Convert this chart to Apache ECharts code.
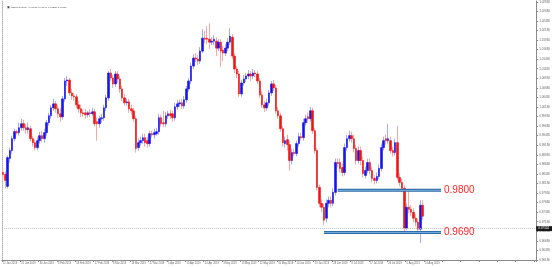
<!DOCTYPE html>
<html><head><meta charset="utf-8">
<script src="https://cdn.jsdelivr.net/npm/echarts@6/dist/echarts.min.js"></script>
<style>html,body{margin:0;padding:0;background:#fff}#c{width:553px;height:267px}</style>
</head><body><div id="c"></div>
<script>
const symbolName = 'USDCHF,Daily';
const openP = [
0.98468,0.98416,0.98104,0.98832,0.99040,0.99352,0.99534,0.99508,0.99638,0.99742,
0.99638,0.99586,0.99612,0.99352,0.99248,0.99118,0.99300,0.99430,0.99352,0.99508,
0.99768,0.99950,1.00158,1.00262,1.00132,1.00002,0.99924,1.00392,1.00860,1.00886,
1.00548,1.00470,1.00444,1.00236,1.00132,1.00028,1.00028,0.99976,1.00028,1.00002,
1.00054,0.99794,0.99742,0.99872,0.99898,1.00158,1.00418,1.01068,1.00938,1.00782,
1.01042,1.00912,1.00652,1.00418,1.00288,1.00314,1.00132,1.00080,0.99872,0.99118,
0.99248,0.99300,0.99378,0.99300,0.99222,0.99482,0.99456,0.99482,0.99534,0.99898,
0.99768,0.99742,0.99950,1.00002,1.00002,0.99898,1.00184,1.00262,1.00288,1.00210,
1.00366,1.00652,1.00860,1.01250,1.01458,1.01432,1.01380,1.01640,1.01978,1.01978,
1.01952,1.01874,1.01900,1.01900,1.01718,1.01874,1.01666,1.01588,1.01718,1.01874,
1.02004,1.01510,1.01172,1.01042,1.00522,1.00808,1.00912,1.00990,1.01042,1.00990,
1.01068,1.01042,1.00860,1.00496,1.00236,1.00158,1.00288,1.00548,1.00782,1.00678,
1.00080,0.99950,0.99612,0.99222,0.99326,0.99196,0.98780,0.98988,0.98962,0.99222,
0.99404,0.99378,0.99768,0.99924,0.99872,1.00080,0.99560,0.99040,0.98078,0.97662,
0.97558,0.97272,0.97662,0.97740,0.97662,0.97948,0.98728,0.98728,0.98598,0.98468,
0.99118,0.99352,0.99430,0.99352,0.99092,0.98780,0.99040,0.98780,0.98390,0.98520,
0.98728,0.98520,0.98312,0.98260,0.98364,0.98572,0.99118,0.99352,0.99300,0.99300,
0.99040,0.98988,0.99248,0.98338,0.98208,0.98052,0.97012,0.97558,0.97506,0.97428,
0.97272,0.97168,0.96986,0.97610];
const closeP = [
0.98416,0.98260,0.98858,0.99040,0.99352,0.99534,0.99508,0.99638,0.99742,0.99638,
0.99586,0.99638,0.99352,0.99248,0.99118,0.99300,0.99430,0.99352,0.99508,0.99768,
0.99950,1.00158,1.00262,1.00132,1.00002,0.99924,1.00392,1.00860,1.00886,1.00548,
1.00470,1.00444,1.00236,1.00132,1.00028,1.00002,0.99976,1.00028,1.00002,1.00054,
0.99742,0.99742,0.99872,0.99898,1.00158,1.00418,1.01068,1.00938,1.00782,1.01042,
1.00912,1.00652,1.00418,1.00288,1.00314,1.00132,1.00080,0.99872,0.99092,0.99248,
0.99300,0.99378,0.99248,0.99222,0.99482,0.99456,0.99508,0.99534,0.99898,0.99742,
0.99742,0.99950,1.00002,0.99950,0.99898,1.00184,1.00262,1.00288,1.00210,1.00366,
1.00652,1.00860,1.01250,1.01458,1.01432,1.01380,1.01640,1.01978,1.01952,1.01952,
1.01874,1.01900,1.01952,1.01718,1.01874,1.01640,1.01588,1.01718,1.01874,1.02030,
1.01510,1.01172,1.01042,1.00522,1.00808,1.00912,1.00990,1.01042,1.00990,1.01068,
1.01042,1.00860,1.00496,1.00236,1.00158,1.00288,1.00548,1.00782,1.00678,1.00080,
0.99950,0.99612,0.99248,0.99300,0.99196,0.98780,0.98988,0.98962,0.99222,0.99404,
0.99378,0.99768,0.99872,0.99872,1.00080,0.99560,0.99040,0.98078,0.97662,0.97558,
0.97220,0.97662,0.97740,0.97662,0.97948,0.98728,0.98702,0.98572,0.98468,0.99118,
0.99352,0.99430,0.99352,0.99092,0.98780,0.99040,0.98780,0.98442,0.98520,0.98728,
0.98520,0.98312,0.98260,0.98364,0.98572,0.99118,0.99300,0.99300,0.99352,0.99040,
0.98988,0.99248,0.98338,0.98208,0.98052,0.97012,0.97558,0.97506,0.97428,0.97272,
0.97168,0.96986,0.97610,0.97324];
const lowP = [
0.98312,0.98052,0.98052,0.98728,0.98962,0.99274,0.99456,0.99430,0.99560,0.99560,
0.99482,0.99482,0.99274,0.99144,0.99040,0.99040,0.99222,0.99274,0.99248,0.99430,
0.99690,0.99872,1.00080,1.00028,0.99898,0.99794,0.99846,1.00314,1.00730,1.00470,
1.00366,1.00340,1.00158,1.00028,0.99924,0.99924,0.99872,0.99898,0.99924,0.99950,
0.99664,0.99300,0.99638,0.99768,0.99820,1.00080,1.00340,1.00860,1.00678,1.00704,
1.00808,1.00548,1.00340,1.00210,1.00210,1.00028,0.99976,0.99794,0.98988,0.99040,
0.99170,0.99222,0.99144,0.99118,0.99144,0.99378,0.99352,0.99430,0.99456,0.99664,
0.99664,0.99664,0.99872,0.99872,0.99794,0.99820,1.00106,1.00184,1.00132,1.00132,
1.00288,1.00574,1.00782,1.01172,1.01354,1.01276,1.01302,1.01588,1.01848,1.01822,
1.01692,1.01796,1.01796,1.01510,1.01640,1.01224,1.01380,1.01510,1.01640,1.01796,
1.01432,1.01068,1.00938,1.00444,1.00444,1.00730,1.00834,1.00912,1.00860,1.00912,
1.00964,1.00782,1.00418,1.00158,1.00054,1.00080,1.00210,1.00470,1.00600,1.00002,
0.99872,0.99534,0.99144,0.99118,0.99040,0.98520,0.98676,0.98884,0.98884,0.99144,
0.99300,0.99300,0.99690,0.99768,0.99794,0.99482,0.98962,0.98000,0.97558,0.97428,
0.97090,0.97168,0.97558,0.97558,0.97584,0.97870,0.98598,0.98468,0.98364,0.98390,
0.99040,0.99274,0.99248,0.98988,0.98676,0.98702,0.98650,0.98338,0.98312,0.98442,
0.98416,0.98208,0.98156,0.98182,0.98286,0.98494,0.99040,0.99196,0.99222,0.98962,
0.98884,0.98910,0.98260,0.98104,0.97948,0.96908,0.96960,0.97402,0.97324,0.97168,
0.97064,0.96882,0.96622,0.97220];
const highP = [
0.98572,0.98494,0.98910,0.99118,0.99430,0.99612,0.99586,0.99768,0.99872,0.99846,
0.99742,0.99768,0.99690,0.99430,0.99326,0.99378,0.99534,0.99560,0.99612,0.99846,
1.00028,1.00236,1.00392,1.00340,1.00236,1.00158,1.00470,1.00938,1.00990,1.00938,
1.00652,1.00548,1.00522,1.00340,1.00236,1.00106,1.00132,1.00080,1.00132,1.00158,
1.00132,0.99898,0.99950,1.00002,1.00236,1.00496,1.01120,1.01172,1.01016,1.01120,
1.01120,1.00990,1.00730,1.00522,1.00392,1.00392,1.00236,1.00158,0.99950,0.99352,
0.99404,0.99482,0.99482,0.99404,0.99560,0.99560,0.99612,0.99638,1.00002,0.99976,
1.00080,1.00054,1.00080,1.00106,1.00080,1.00288,1.00366,1.00366,1.00392,1.00470,
1.00730,1.00938,1.01328,1.01562,1.01588,1.01536,1.01744,1.02212,1.02160,1.02290,
1.02368,1.02004,1.02056,1.02004,1.01952,1.01952,1.01770,1.01822,1.01978,1.02238,
1.02082,1.01588,1.01250,1.01120,1.00886,1.01016,1.01068,1.01146,1.01120,1.01172,
1.01146,1.01120,1.00938,1.00600,1.00340,1.00392,1.00626,1.00860,1.00886,1.00756,
1.00184,1.00028,0.99690,0.99404,0.99456,0.99300,0.99092,0.99092,0.99300,0.99508,
0.99508,0.99872,0.99976,1.00028,1.00184,1.00158,0.99638,0.99118,0.98156,0.97766,
0.97662,0.97766,0.97844,0.97844,0.98052,0.98832,0.98832,0.98832,0.98702,0.99222,
0.99456,0.99560,0.99534,0.99456,0.99196,0.99144,0.99144,0.98884,0.98624,0.98832,
0.98832,0.98624,0.98390,0.98468,0.98676,0.99222,0.99404,0.99456,0.99742,0.99404,
0.99144,0.99352,0.99690,0.98442,0.98312,0.98130,0.97662,0.98000,0.97610,0.97532,
0.97376,0.97272,0.97740,0.97740];
const dateLabels = ['11 Jan 2019','21 Jan 2019','30 Jan 2019','8 Feb 2019','18 Feb 2019','27 Feb 2019',
'8 Mar 2019','18 Mar 2019','27 Mar 2019','5 Apr 2019','15 Apr 2019','24 Apr 2019','3 May 2019',
'13 May 2019','22 May 2019','31 May 2019','10 Jun 2019','19 Jun 2019','28 Jun 2019','8 Jul 2019',
'17 Jul 2019','26 Jul 2019','5 Aug 2019','14 Aug 2019'];
const supportLevels = [0.9800, 0.9690];
const supportText = ['0.9800', '0.9690'];
const supportFrom = [146, 140];
const supportTo = [191, 191];
const barsOnAxis = 233;
const labelEvery = 8;
const yMin = 0.9618, yMax = 1.0295, yStep = 0.0025;

const cats = Array.from({length: barsOnAxis}, (_, i) => String(i));
const wickData = openP.map((o, i) => [o, closeP[i], lowP[i], highP[i]]);
const bodyData = openP.map((o, i) => [o, closeP[i], Math.min(o, closeP[i]), Math.max(o, closeP[i])]);
const last = closeP.length - 1;
const titleText = '\u25A3 ' + symbolName + '  ' + openP[last].toFixed(5) + ' ' + highP[last].toFixed(5) + ' ' + lowP[last].toFixed(5) + ' ' + closeP[last].toFixed(5);

const series = [
  { type: 'candlestick', data: wickData, barWidth: 1, silent: true,
    itemStyle: { color: '#b4b4f4', color0: '#f6b4b4', borderColor: '#aaaaf2', borderColor0: '#f4a8a8', borderWidth: 1 } },
  { type: 'candlestick', data: bodyData, barWidth: 2, silent: true,
    itemStyle: { color: '#1414f0', color0: '#f01414', borderColor: '#1414f0', borderColor0: '#f01414', borderWidth: 0.6 },
    markLine: { silent: true, symbol: ['none', 'none'], animation: false,
      lineStyle: { type: 'dotted', color: '#c4c4c4', width: 1 },
      label: { show: true, position: 'end', formatter: closeP[last].toFixed(5), color: '#fff', backgroundColor: '#1a1a1a',
               fontSize: 3, padding: [1, 3, 1, 2], distance: 0 },
      data: [{ yAxis: closeP[last] }] } }
];
supportLevels.forEach((lv, k) => {
  const pts = [[supportFrom[k], lv], [supportTo[k], lv]];
  series.push({ type: 'line', data: pts, symbol: 'none', silent: true, z: 5,
    lineStyle: { color: '#2c6aa6', width: 3 },
    endLabel: { show: true, formatter: supportText[k], color: '#ff2626', fontSize: 10,
      fontFamily: 'Liberation Sans, Arial, sans-serif', distance: 3 } });
  series.push({ type: 'line', data: pts, symbol: 'none', silent: true, z: 6,
    lineStyle: { color: '#78aede', width: 1 } });
});

const chart = echarts.init(document.getElementById('c'), null, { renderer: 'canvas' });
chart.setOption({
  animation: false,
  backgroundColor: '#ffffff',
  title: { text: titleText, left: 2, top: 1,
    textStyle: { fontSize: 2.5, color: '#444', fontWeight: 'normal', fontFamily: 'Liberation Sans, Arial, sans-serif' } },
  grid: { left: 0, right: 11, top: 1, bottom: 7 },
  xAxis: { type: 'category', data: cats, boundaryGap: true,
    axisLine: { show: true, lineStyle: { color: '#8a8a8a', width: 1 } },
    axisTick: { show: true, interval: labelEvery - 1, length: 2, lineStyle: { color: '#8a8a8a' } },
    axisLabel: { interval: labelEvery - 1, fontSize: 2.6, color: '#666', align: 'left', margin: 2,
      fontFamily: 'Liberation Sans, Arial, sans-serif',
      formatter: (v, i) => dateLabels[i / labelEvery] || '' },
    splitLine: { show: false } },
  yAxis: [
    { type: 'value', position: 'right', min: yMin, max: yMax, interval: yStep,
      axisLine: { show: true, lineStyle: { color: '#8a8a8a', width: 1 } },
      axisTick: { show: true, length: 2, lineStyle: { color: '#8a8a8a' } },
      axisLabel: { fontSize: 3, color: '#666', margin: 3, fontFamily: 'Liberation Sans, Arial, sans-serif',
        formatter: v => v.toFixed(5) },
      splitLine: { show: false } },
    { type: 'value', position: 'left', min: yMin, max: yMax,
      axisLine: { show: true, lineStyle: { color: '#b0b0b0', type: 'dotted', width: 1 } },
      axisTick: { show: false }, axisLabel: { show: false }, splitLine: { show: false } }
  ],
  series: series
});
</script>
</body></html>
